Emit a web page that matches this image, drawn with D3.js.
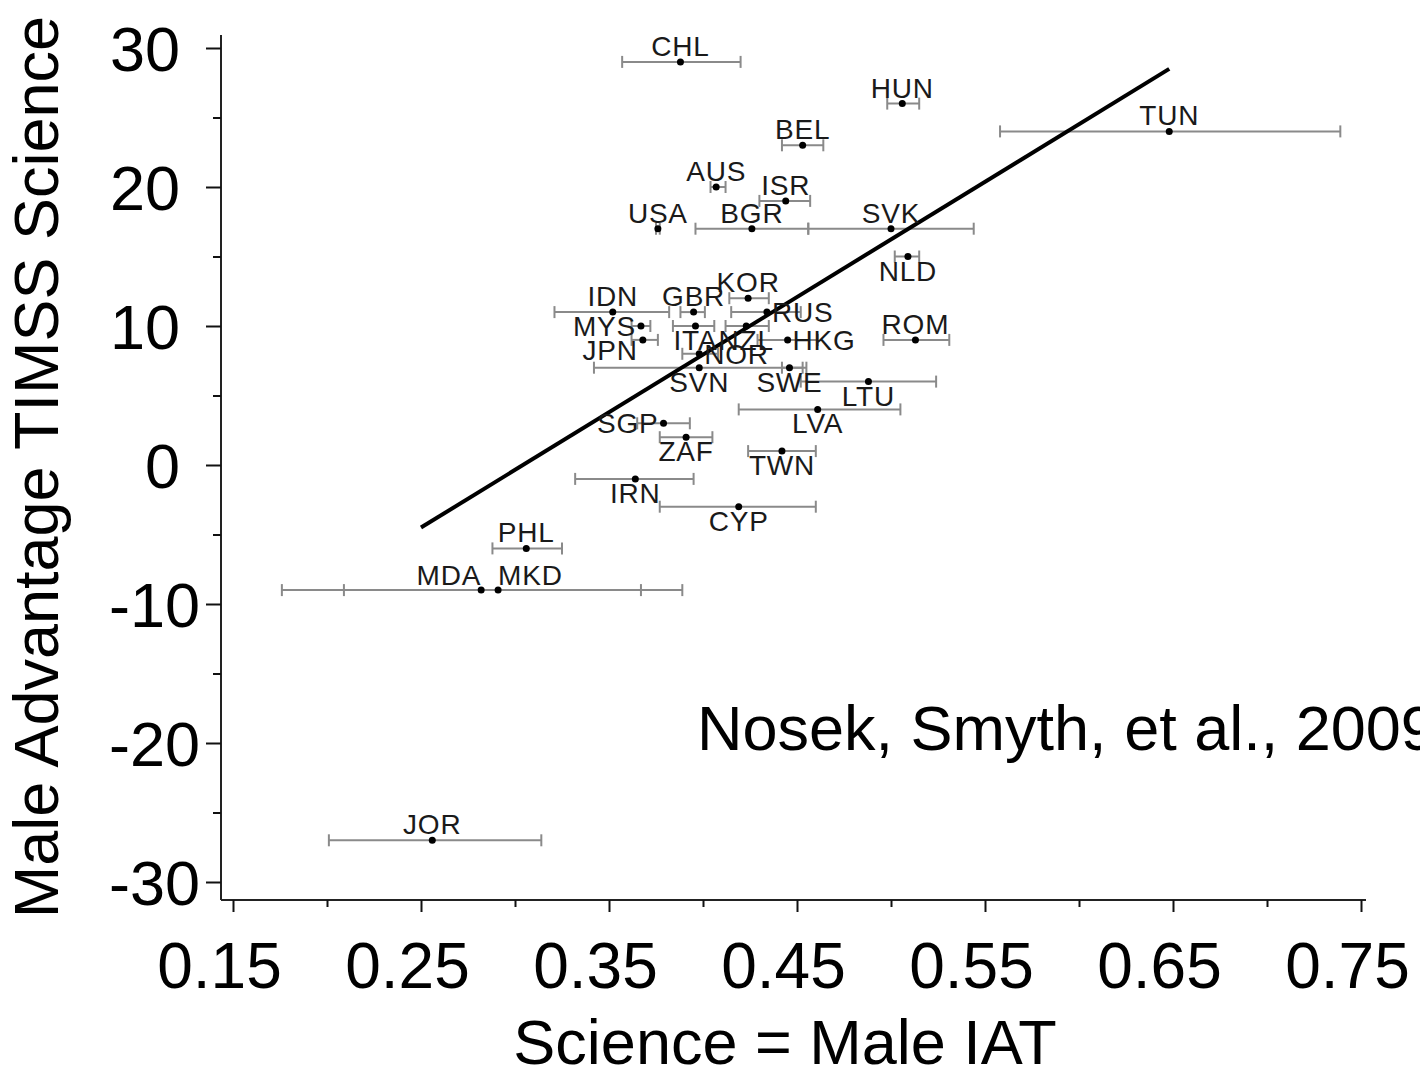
<!DOCTYPE html>
<html>
<head>
<meta charset="utf-8">
<script src="https://cdn.jsdelivr.net/npm/d3@7"></script>
<style>
  html, body { margin: 0; padding: 0; background: #fff; }
  svg { display: block; font-family: "Liberation Sans", Arial, sans-serif; }
</style>
</head>
<body>
<svg id="chart" width="1420" height="1075"></svg>
<script>
// ---- data ----
const countries = ["CHL","HUN","BEL","AUS","ISR","USA","BGR","SVK","NLD","TUN",
  "KOR","IDN","GBR","RUS","MYS","ITA","NZL","JPN","HKG","NOR",
  "SVN","SWE","ROM","LTU","LVA","SGP","ZAF","TWN","IRN","CYP",
  "PHL","MDA","MKD","JOR"];
const iat = [0.388,0.506,0.453,0.407,0.444,0.376,0.426,0.500,0.509,0.648,
  0.424,0.352,0.395,0.434,0.367,0.396,0.423,0.368,0.445,0.398,
  0.398,0.446,0.513,0.488,0.461,0.379,0.391,0.442,0.364,0.419,
  0.306,0.282,0.291,0.256];
const timss = [29,26,23,20,19,17,17,17,15,24,
  12,11,11,11,10,10,10,9,9,8,
  7,7,9,6,4,3,2,1,-1,-3,
  -6,-9,-9,-27];
const ciLow = [0.357,0.498,0.442,0.404,0.430,0.375,0.396,0.456,0.502,0.558,
  0.414,0.321,0.388,0.415,0.362,0.384,0.412,0.362,0.429,0.389,
  0.342,0.442,0.496,0.452,0.419,0.365,0.377,0.424,0.332,0.377,
  0.288,0.176,0.209,0.201];
const ciHigh = [0.420,0.515,0.464,0.412,0.457,0.377,0.456,0.544,0.515,0.739,
  0.435,0.382,0.401,0.452,0.372,0.406,0.435,0.376,0.461,0.408,
  0.455,0.453,0.531,0.524,0.505,0.393,0.405,0.460,0.395,0.460,
  0.325,0.389,0.367,0.314];
const fitLine = [[0.25,-4.5],[0.648,28.5]];
const xTicks = [0.15,0.25,0.35,0.45,0.55,0.65,0.75];
const xMinor = [0.20,0.30,0.40,0.50,0.60,0.70];
const yTicks = [30,20,10,0,-10,-20,-30];
const yMinor = [25,15,5,-5,-15,-25];
const xTitle = "Science = Male IAT";
const yTitle = "Male Advantage TIMSS Science";
const note = "Nosek, Smyth, et al., 2009";

// label placement (layout only)
const place = {
  RUS:"right", HKG:"right", NOR:"right",
  MYS:"left", SGP:"left", JPN:"leftlow",
  NLD:"bot", ITA:"bot", NZL:"bot", SVN:"bot", SWE:"bot", LTU:"bot",
  LVA:"bot", ZAF:"bot", TWN:"bot", IRN:"bot", CYP:"bot",
  MDA:"topleft", MKD:"topright"
};

// ---- chart ----
const svg = d3.select("#chart");
const x = d3.scaleLinear().domain([0.15,0.75]).range([233,1361]);
const y = d3.scaleLinear().domain([-30,30]).range([882,48]);
const axX0 = 221, axY0 = 900;

// axis frame (L shape)
svg.append("line").attr("x1",axX0).attr("x2",axX0).attr("y1",35).attr("y2",axY0)
  .attr("stroke","#222").attr("stroke-width",2);
svg.append("line").attr("x1",axX0).attr("x2",1366).attr("y1",axY0).attr("y2",axY0)
  .attr("stroke","#222").attr("stroke-width",2);

// y axis
const yAxis = d3.axisLeft(y).tickValues(yTicks).tickSize(15).tickSizeOuter(0)
  .tickFormat(d => String(d)).tickPadding(6);
const gy = svg.append("g").attr("transform",`translate(${axX0},0)`).call(yAxis);
gy.select(".domain").remove();
gy.selectAll("line").attr("stroke","#111").attr("stroke-width",2);
gy.selectAll("text").attr("font-size",63).attr("fill","#000")
  .attr("font-family","Liberation Sans, Arial, sans-serif").attr("dy","0.36em")
  .attr("dx", d => d < 0 ? 0 : -20);
const gyMin = svg.append("g").attr("transform",`translate(${axX0},0)`)
  .call(d3.axisLeft(y).tickValues(yMinor).tickSize(8).tickFormat(""));
gyMin.select(".domain").remove();
gyMin.selectAll("line").attr("stroke","#111").attr("stroke-width",2);

// x axis
const xAxis = d3.axisBottom(x).tickValues(xTicks).tickSize(12).tickSizeOuter(0)
  .tickFormat(d3.format(".2f")).tickPadding(31);
const gx = svg.append("g").attr("transform",`translate(0,${axY0})`).call(xAxis);
gx.select(".domain").remove();
gx.selectAll("line").attr("stroke","#111").attr("stroke-width",2);
gx.selectAll("text").attr("font-size",64).attr("fill","#000")
  .attr("font-family","Liberation Sans, Arial, sans-serif").attr("dx",-14);
const gxMin = svg.append("g").attr("transform",`translate(0,${axY0})`)
  .call(d3.axisBottom(x).tickValues(xMinor).tickSize(7).tickFormat(""));
gxMin.select(".domain").remove();
gxMin.selectAll("line").attr("stroke","#111").attr("stroke-width",2);

// titles
svg.append("text").attr("x",785).attr("y",1064).attr("text-anchor","middle")
  .attr("font-size",63).attr("fill","#000").text(xTitle);
svg.append("text").attr("transform","translate(58,467) rotate(-90)")
  .attr("text-anchor","middle").attr("font-size",63).attr("fill","#000").text(yTitle);
svg.append("text").attr("x",697).attr("y",750).attr("font-size",63)
  .attr("fill","#000").text(note);

const data = countries.map((c,i)=>({c, x:iat[i], y:timss[i], lo:ciLow[i], hi:ciHigh[i]}));

// error bars
const eb = svg.append("g").attr("stroke","#8a8a8a").attr("stroke-width",2).attr("fill","none");
data.forEach(d=>{
  const py = y(d.y);
  eb.append("line").attr("x1",x(d.lo)).attr("x2",x(d.hi)).attr("y1",py).attr("y2",py);
  eb.append("line").attr("x1",x(d.lo)).attr("x2",x(d.lo)).attr("y1",py-6).attr("y2",py+6);
  eb.append("line").attr("x1",x(d.hi)).attr("x2",x(d.hi)).attr("y1",py-6).attr("y2",py+6);
});

// regression line
svg.append("line")
  .attr("x1",x(fitLine[0][0])).attr("y1",y(fitLine[0][1]))
  .attr("x2",x(fitLine[1][0])).attr("y2",y(fitLine[1][1]))
  .attr("stroke","#000").attr("stroke-width",4);

// points
svg.append("g").selectAll("circle").data(data).join("circle")
  .attr("cx",d=>x(d.x)).attr("cy",d=>y(d.y)).attr("r",3.5).attr("fill","#000");

// labels
const off = {
  top:["middle",0,-6], bot:["middle",0,24], left:["end",-5,10], right:["start",5,10],
  leftlow:["end",-5,20], topleft:["end",0,-5], topright:["start",0,-5]
};
svg.append("g").selectAll("text").data(data).join("text")
  .attr("x",d=>x(d.x)+off[place[d.c]||"top"][1])
  .attr("y",d=>y(d.y)+off[place[d.c]||"top"][2])
  .attr("text-anchor",d=>off[place[d.c]||"top"][0])
  .attr("font-size",28).attr("letter-spacing",0.8).attr("fill","#1a1a1a")
  .text(d=>d.c);
</script>
</body>
</html>
